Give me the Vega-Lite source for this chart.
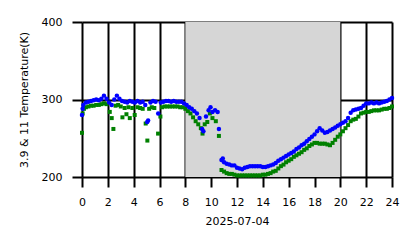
{
  "$schema": "https://vega.github.io/schema/vega-lite/v6.json",
  "autosize": "none",
  "padding": {"left": 82, "top": 22, "right": 26, "bottom": 71},
  "width": 310,
  "height": 155,
  "background": "white",
  "config": {
    "view": {"stroke": null},
    "font": "DejaVu Sans",
    "axis": {
      "labelFont": "DejaVu Sans",
      "titleFont": "DejaVu Sans",
      "labelFontSize": 11,
      "titleFontSize": 11,
      "titleFontWeight": "normal",
      "labelColor": "black",
      "titleColor": "black",
      "tickColor": "black",
      "tickWidth": 2,
      "tickSize": 10,
      "gridColor": "black",
      "gridWidth": 2,
      "gridOpacity": 1,
      "domain": false,
      "zindex": 1,
      "labelOverlap": false,
      "labelFlush": false
    }
  },
  "datasets": {
    "band": [{"start": 8, "end": 20}],
    "obs": [
      {"hour": 0.0, "band": "11", "temp": 257}, {"hour": 0.05, "band": "11", "temp": 282}, {"hour": 0.15, "band": "11", "temp": 288},
      {"hour": 0.3, "band": "11", "temp": 290}, {"hour": 0.5, "band": "11", "temp": 291}, {"hour": 0.7, "band": "11", "temp": 292},
      {"hour": 0.9, "band": "11", "temp": 292}, {"hour": 1.1, "band": "11", "temp": 293}, {"hour": 1.3, "band": "11", "temp": 293},
      {"hour": 1.5, "band": "11", "temp": 294}, {"hour": 1.7, "band": "11", "temp": 295}, {"hour": 1.9, "band": "11", "temp": 294},
      {"hour": 2.15, "band": "11", "temp": 284}, {"hour": 2.3, "band": "11", "temp": 276}, {"hour": 2.43, "band": "11", "temp": 262},
      {"hour": 2.6, "band": "11", "temp": 292}, {"hour": 2.8, "band": "11", "temp": 293}, {"hour": 3.0, "band": "11", "temp": 291},
      {"hour": 3.13, "band": "11", "temp": 277}, {"hour": 3.3, "band": "11", "temp": 289}, {"hour": 3.44, "band": "11", "temp": 281},
      {"hour": 3.6, "band": "11", "temp": 290}, {"hour": 3.7, "band": "11", "temp": 276}, {"hour": 3.9, "band": "11", "temp": 289},
      {"hour": 4.08, "band": "11", "temp": 280}, {"hour": 4.3, "band": "11", "temp": 290}, {"hour": 4.5, "band": "11", "temp": 289},
      {"hour": 4.7, "band": "11", "temp": 288}, {"hour": 4.93, "band": "11", "temp": 269}, {"hour": 5.06, "band": "11", "temp": 247},
      {"hour": 5.2, "band": "11", "temp": 288}, {"hour": 5.4, "band": "11", "temp": 290}, {"hour": 5.6, "band": "11", "temp": 289},
      {"hour": 5.89, "band": "11", "temp": 256}, {"hour": 6.07, "band": "11", "temp": 278}, {"hour": 6.2, "band": "11", "temp": 290},
      {"hour": 6.4, "band": "11", "temp": 291}, {"hour": 6.6, "band": "11", "temp": 291}, {"hour": 6.8, "band": "11", "temp": 291},
      {"hour": 7.0, "band": "11", "temp": 291}, {"hour": 7.2, "band": "11", "temp": 291}, {"hour": 7.4, "band": "11", "temp": 291},
      {"hour": 7.6, "band": "11", "temp": 290}, {"hour": 7.8, "band": "11", "temp": 290}, {"hour": 8.0, "band": "11", "temp": 288},
      {"hour": 8.2, "band": "11", "temp": 285}, {"hour": 8.4, "band": "11", "temp": 282}, {"hour": 8.6, "band": "11", "temp": 277},
      {"hour": 8.8, "band": "11", "temp": 272}, {"hour": 9.0, "band": "11", "temp": 268}, {"hour": 9.2, "band": "11", "temp": 263},
      {"hour": 9.33, "band": "11", "temp": 256}, {"hour": 9.5, "band": "11", "temp": 268}, {"hour": 9.7, "band": "11", "temp": 271},
      {"hour": 9.9, "band": "11", "temp": 282}, {"hour": 10.1, "band": "11", "temp": 276}, {"hour": 10.36, "band": "11", "temp": 272},
      {"hour": 10.6, "band": "11", "temp": 253}, {"hour": 10.8, "band": "11", "temp": 209}, {"hour": 11.0, "band": "11", "temp": 207},
      {"hour": 11.2, "band": "11", "temp": 205}, {"hour": 11.4, "band": "11", "temp": 204}, {"hour": 11.6, "band": "11", "temp": 204},
      {"hour": 11.8, "band": "11", "temp": 203}, {"hour": 12.0, "band": "11", "temp": 202}, {"hour": 12.2, "band": "11", "temp": 202},
      {"hour": 12.4, "band": "11", "temp": 202}, {"hour": 12.6, "band": "11", "temp": 202}, {"hour": 12.8, "band": "11", "temp": 202},
      {"hour": 13.0, "band": "11", "temp": 202}, {"hour": 13.2, "band": "11", "temp": 202}, {"hour": 13.4, "band": "11", "temp": 202},
      {"hour": 13.6, "band": "11", "temp": 202}, {"hour": 13.8, "band": "11", "temp": 202}, {"hour": 14.0, "band": "11", "temp": 203},
      {"hour": 14.2, "band": "11", "temp": 203}, {"hour": 14.4, "band": "11", "temp": 204}, {"hour": 14.6, "band": "11", "temp": 205},
      {"hour": 14.8, "band": "11", "temp": 207}, {"hour": 15.0, "band": "11", "temp": 208}, {"hour": 15.2, "band": "11", "temp": 211},
      {"hour": 15.4, "band": "11", "temp": 214}, {"hour": 15.6, "band": "11", "temp": 216}, {"hour": 15.8, "band": "11", "temp": 219},
      {"hour": 16.0, "band": "11", "temp": 221}, {"hour": 16.2, "band": "11", "temp": 223}, {"hour": 16.4, "band": "11", "temp": 226},
      {"hour": 16.6, "band": "11", "temp": 228}, {"hour": 16.8, "band": "11", "temp": 230}, {"hour": 17.0, "band": "11", "temp": 232},
      {"hour": 17.2, "band": "11", "temp": 235}, {"hour": 17.4, "band": "11", "temp": 237}, {"hour": 17.6, "band": "11", "temp": 240},
      {"hour": 17.8, "band": "11", "temp": 242}, {"hour": 18.0, "band": "11", "temp": 244}, {"hour": 18.2, "band": "11", "temp": 244},
      {"hour": 18.4, "band": "11", "temp": 243}, {"hour": 18.6, "band": "11", "temp": 243}, {"hour": 18.8, "band": "11", "temp": 243},
      {"hour": 19.0, "band": "11", "temp": 242}, {"hour": 19.2, "band": "11", "temp": 241}, {"hour": 19.4, "band": "11", "temp": 244},
      {"hour": 19.6, "band": "11", "temp": 248}, {"hour": 19.8, "band": "11", "temp": 252}, {"hour": 20.0, "band": "11", "temp": 255},
      {"hour": 20.2, "band": "11", "temp": 259}, {"hour": 20.4, "band": "11", "temp": 263}, {"hour": 20.6, "band": "11", "temp": 267},
      {"hour": 20.8, "band": "11", "temp": 272}, {"hour": 21.0, "band": "11", "temp": 274}, {"hour": 21.2, "band": "11", "temp": 275},
      {"hour": 21.4, "band": "11", "temp": 278}, {"hour": 21.6, "band": "11", "temp": 282}, {"hour": 21.8, "band": "11", "temp": 283},
      {"hour": 22.0, "band": "11", "temp": 284}, {"hour": 22.2, "band": "11", "temp": 284}, {"hour": 22.4, "band": "11", "temp": 285},
      {"hour": 22.6, "band": "11", "temp": 286}, {"hour": 22.8, "band": "11", "temp": 286}, {"hour": 23.0, "band": "11", "temp": 286},
      {"hour": 23.2, "band": "11", "temp": 287}, {"hour": 23.4, "band": "11", "temp": 288}, {"hour": 23.6, "band": "11", "temp": 288},
      {"hour": 23.8, "band": "11", "temp": 289}, {"hour": 24.0, "band": "11", "temp": 291},

      {"hour": 0.0, "band": "3.9", "temp": 280}, {"hour": 0.05, "band": "3.9", "temp": 288}, {"hour": 0.1, "band": "3.9", "temp": 293},
      {"hour": 0.3, "band": "3.9", "temp": 296}, {"hour": 0.5, "band": "3.9", "temp": 297}, {"hour": 0.7, "band": "3.9", "temp": 298},
      {"hour": 0.9, "band": "3.9", "temp": 299}, {"hour": 1.1, "band": "3.9", "temp": 300}, {"hour": 1.3, "band": "3.9", "temp": 299},
      {"hour": 1.5, "band": "3.9", "temp": 301}, {"hour": 1.7, "band": "3.9", "temp": 305}, {"hour": 1.9, "band": "3.9", "temp": 301},
      {"hour": 2.1, "band": "3.9", "temp": 296}, {"hour": 2.3, "band": "3.9", "temp": 293}, {"hour": 2.5, "band": "3.9", "temp": 300},
      {"hour": 2.7, "band": "3.9", "temp": 305}, {"hour": 2.9, "band": "3.9", "temp": 301}, {"hour": 3.1, "band": "3.9", "temp": 298},
      {"hour": 3.3, "band": "3.9", "temp": 297}, {"hour": 3.5, "band": "3.9", "temp": 296}, {"hour": 3.7, "band": "3.9", "temp": 298},
      {"hour": 3.9, "band": "3.9", "temp": 297}, {"hour": 4.1, "band": "3.9", "temp": 296}, {"hour": 4.3, "band": "3.9", "temp": 298},
      {"hour": 4.5, "band": "3.9", "temp": 296}, {"hour": 4.7, "band": "3.9", "temp": 297}, {"hour": 4.9, "band": "3.9", "temp": 293},
      {"hour": 5.05, "band": "3.9", "temp": 271}, {"hour": 5.12, "band": "3.9", "temp": 273}, {"hour": 5.3, "band": "3.9", "temp": 296},
      {"hour": 5.5, "band": "3.9", "temp": 298}, {"hour": 5.7, "band": "3.9", "temp": 297}, {"hour": 5.9, "band": "3.9", "temp": 282},
      {"hour": 6.1, "band": "3.9", "temp": 296}, {"hour": 6.3, "band": "3.9", "temp": 297}, {"hour": 6.5, "band": "3.9", "temp": 298},
      {"hour": 6.7, "band": "3.9", "temp": 298}, {"hour": 6.9, "band": "3.9", "temp": 297}, {"hour": 7.1, "band": "3.9", "temp": 298},
      {"hour": 7.3, "band": "3.9", "temp": 297}, {"hour": 7.5, "band": "3.9", "temp": 297}, {"hour": 7.7, "band": "3.9", "temp": 297},
      {"hour": 7.9, "band": "3.9", "temp": 295}, {"hour": 8.1, "band": "3.9", "temp": 293}, {"hour": 8.3, "band": "3.9", "temp": 290},
      {"hour": 8.5, "band": "3.9", "temp": 288}, {"hour": 8.7, "band": "3.9", "temp": 285}, {"hour": 8.9, "band": "3.9", "temp": 282},
      {"hour": 9.1, "band": "3.9", "temp": 276}, {"hour": 9.3, "band": "3.9", "temp": 262}, {"hour": 9.4, "band": "3.9", "temp": 259},
      {"hour": 9.6, "band": "3.9", "temp": 278}, {"hour": 9.8, "band": "3.9", "temp": 286}, {"hour": 9.95, "band": "3.9", "temp": 290},
      {"hour": 10.1, "band": "3.9", "temp": 284}, {"hour": 10.3, "band": "3.9", "temp": 286}, {"hour": 10.5, "band": "3.9", "temp": 284},
      {"hour": 10.6, "band": "3.9", "temp": 262}, {"hour": 10.8, "band": "3.9", "temp": 222}, {"hour": 10.9, "band": "3.9", "temp": 224},
      {"hour": 11.0, "band": "3.9", "temp": 219}, {"hour": 11.2, "band": "3.9", "temp": 217}, {"hour": 11.4, "band": "3.9", "temp": 216},
      {"hour": 11.6, "band": "3.9", "temp": 215}, {"hour": 11.8, "band": "3.9", "temp": 215}, {"hour": 12.0, "band": "3.9", "temp": 212},
      {"hour": 12.2, "band": "3.9", "temp": 211}, {"hour": 12.4, "band": "3.9", "temp": 210}, {"hour": 12.6, "band": "3.9", "temp": 212},
      {"hour": 12.8, "band": "3.9", "temp": 213}, {"hour": 13.0, "band": "3.9", "temp": 214}, {"hour": 13.2, "band": "3.9", "temp": 214},
      {"hour": 13.4, "band": "3.9", "temp": 214}, {"hour": 13.6, "band": "3.9", "temp": 214}, {"hour": 13.8, "band": "3.9", "temp": 214},
      {"hour": 14.0, "band": "3.9", "temp": 213}, {"hour": 14.2, "band": "3.9", "temp": 213}, {"hour": 14.4, "band": "3.9", "temp": 214},
      {"hour": 14.6, "band": "3.9", "temp": 215}, {"hour": 14.8, "band": "3.9", "temp": 216}, {"hour": 15.0, "band": "3.9", "temp": 218},
      {"hour": 15.2, "band": "3.9", "temp": 221}, {"hour": 15.4, "band": "3.9", "temp": 223}, {"hour": 15.6, "band": "3.9", "temp": 225},
      {"hour": 15.8, "band": "3.9", "temp": 227}, {"hour": 16.0, "band": "3.9", "temp": 229}, {"hour": 16.2, "band": "3.9", "temp": 231},
      {"hour": 16.4, "band": "3.9", "temp": 233}, {"hour": 16.6, "band": "3.9", "temp": 236}, {"hour": 16.8, "band": "3.9", "temp": 238},
      {"hour": 17.0, "band": "3.9", "temp": 241}, {"hour": 17.2, "band": "3.9", "temp": 243}, {"hour": 17.4, "band": "3.9", "temp": 246},
      {"hour": 17.6, "band": "3.9", "temp": 249}, {"hour": 17.8, "band": "3.9", "temp": 252}, {"hour": 18.0, "band": "3.9", "temp": 255},
      {"hour": 18.2, "band": "3.9", "temp": 259}, {"hour": 18.4, "band": "3.9", "temp": 263}, {"hour": 18.6, "band": "3.9", "temp": 260},
      {"hour": 18.8, "band": "3.9", "temp": 257}, {"hour": 19.0, "band": "3.9", "temp": 258}, {"hour": 19.2, "band": "3.9", "temp": 260},
      {"hour": 19.4, "band": "3.9", "temp": 262}, {"hour": 19.6, "band": "3.9", "temp": 264}, {"hour": 19.8, "band": "3.9", "temp": 266},
      {"hour": 20.0, "band": "3.9", "temp": 268}, {"hour": 20.2, "band": "3.9", "temp": 270}, {"hour": 20.4, "band": "3.9", "temp": 272},
      {"hour": 20.6, "band": "3.9", "temp": 276}, {"hour": 20.8, "band": "3.9", "temp": 283}, {"hour": 21.0, "band": "3.9", "temp": 286},
      {"hour": 21.2, "band": "3.9", "temp": 287}, {"hour": 21.4, "band": "3.9", "temp": 288}, {"hour": 21.6, "band": "3.9", "temp": 289},
      {"hour": 21.8, "band": "3.9", "temp": 292}, {"hour": 22.0, "band": "3.9", "temp": 295}, {"hour": 22.2, "band": "3.9", "temp": 295},
      {"hour": 22.4, "band": "3.9", "temp": 296}, {"hour": 22.6, "band": "3.9", "temp": 295}, {"hour": 22.8, "band": "3.9", "temp": 296},
      {"hour": 23.0, "band": "3.9", "temp": 295}, {"hour": 23.2, "band": "3.9", "temp": 296}, {"hour": 23.4, "band": "3.9", "temp": 297},
      {"hour": 23.6, "band": "3.9", "temp": 298}, {"hour": 23.8, "band": "3.9", "temp": 300}, {"hour": 24.0, "band": "3.9", "temp": 302}
    ]
  },
  "layer": [
    {
      "data": {"name": "band"},
      "mark": {"type": "rect", "color": "#d6d6d6"},
      "encoding": {
        "x": {
          "field": "start", "type": "quantitative",
          "scale": {"domain": [0, 24], "nice": false},
          "axis": {"values": [0, 2, 4, 6, 8, 10, 12, 14, 16, 18, 20, 22, 24], "format": "d", "title": "2025-07-04", "labelPadding": 9, "titlePadding": 8}
        },
        "x2": {"field": "end"}
      }
    },
    {
      "data": {"name": "obs"},
      "transform": [{"filter": "datum.band == '11'"}],
      "mark": {"type": "point", "shape": "square", "filled": true, "size": 16, "color": "#008000", "opacity": 1},
      "encoding": {
        "x": {"field": "hour", "type": "quantitative", "axis": {"values": [0, 2, 4, 6, 8, 10, 12, 14, 16, 18, 20, 22, 24], "format": "d", "title": "2025-07-04", "labelPadding": 9, "titlePadding": 8}},
        "y": {
          "field": "temp", "type": "quantitative",
          "scale": {"domain": [200, 400], "nice": false, "zero": false},
          "axis": {"values": [200, 300, 400], "title": "3.9 & 11 Temperature(K)", "labelPadding": 10, "titlePadding": 12}
        }
      }
    },
    {
      "data": {"name": "obs"},
      "transform": [{"filter": "datum.band == '3.9'"}],
      "mark": {"type": "point", "shape": "circle", "filled": true, "size": 20, "color": "#0000ff", "opacity": 1},
      "encoding": {
        "x": {"field": "hour", "type": "quantitative", "axis": {"values": [0, 2, 4, 6, 8, 10, 12, 14, 16, 18, 20, 22, 24], "format": "d", "title": "2025-07-04", "labelPadding": 9, "titlePadding": 8}},
        "y": {
          "field": "temp", "type": "quantitative",
          "axis": {"values": [200, 300, 400], "title": "3.9 & 11 Temperature(K)", "labelPadding": 10, "titlePadding": 12}
        }
      }
    }
  ]
}
